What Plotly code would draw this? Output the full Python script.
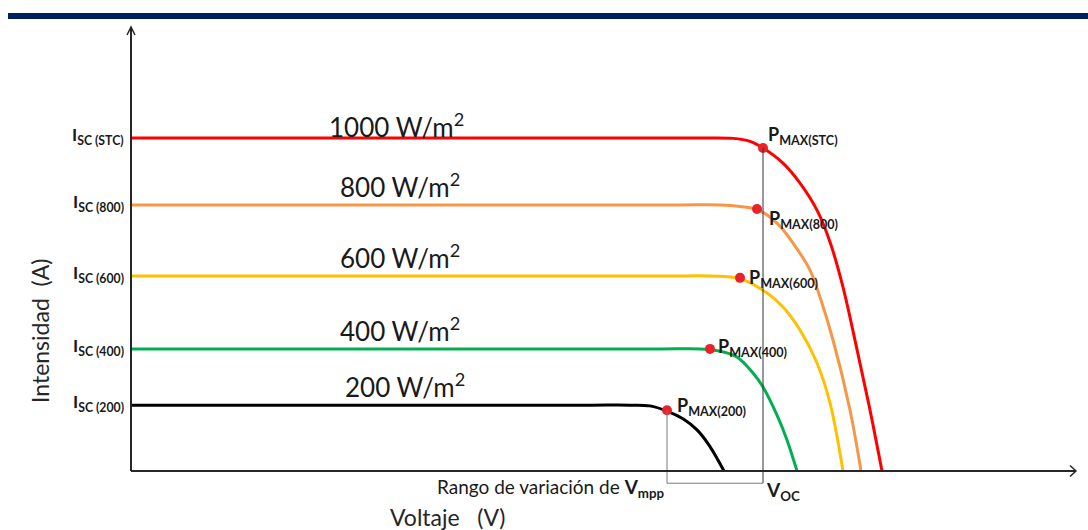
import plotly.graph_objects as go

# ---- I-V curves of a PV module at several irradiance levels (V in volts, I in amps) ----
v_1000 = [0, 10, 20, 26.5, 28.45, 30.1, 30.95, 31.6, 32.6, 33.45, 34.3, 34.95, 35.6, 36.25, 36.9, 37.55]
i_1000 = [9.0, 9.0, 9.0, 9.0, 9.0, 8.99, 8.91, 8.73, 8.32, 7.78, 7.05, 6.19, 4.97, 3.41, 1.78, 0]

v_800 = [0, 10, 20, 27.5, 29.45, 30.45, 31.3, 32.3, 33.1, 33.95, 34.45, 35.1, 35.95, 36.5]
i_800 = [7.19, 7.19, 7.19, 7.19, 7.19, 7.15, 7.07, 6.7, 6.16, 5.43, 4.7, 3.54, 1.65, 0]

v_600 = [0, 10, 20, 27.0, 28.95, 30.45, 31.8, 32.6, 33.45, 34.3, 34.95, 35.6]
i_600 = [5.27, 5.27, 5.27, 5.27, 5.27, 5.2, 4.81, 4.43, 3.81, 2.92, 1.84, 0]

v_400 = [0, 10, 20, 26.5, 28.45, 28.95, 29.6, 30.3, 31.1, 31.6, 32.3, 32.8, 33.3]
i_400 = [3.30, 3.30, 3.30, 3.30, 3.30, 3.28, 3.22, 3.08, 2.65, 2.27, 1.51, 0.84, 0]

v_200 = [0, 10, 18, 23.0, 24.95, 25.95, 26.8, 27.6, 28.3, 28.9, 29.65]
i_200 = [1.78, 1.78, 1.78, 1.78, 1.78, 1.76, 1.62, 1.41, 1.11, 0.70, 0]

curve_names = ["1000 W/m<sup>2</sup>", "800 W/m<sup>2</sup>", "600 W/m<sup>2</sup>",
               "400 W/m<sup>2</sup>", "200 W/m<sup>2</sup>"]
curve_tags = ["STC", "800", "600", "400", "200"]
curve_colors = ["#FF0000", "#F79646", "#FFC000", "#00B050", "#000000"]

# maximum power points
pmax_v = [31.6, 31.3, 30.45, 28.95, 26.8]
pmax_i = [8.73, 7.08, 5.22, 3.30, 1.64]

curves_v = [v_1000, v_800, v_600, v_400, v_200]
curves_i = [i_1000, i_800, i_600, i_400, i_200]

# ---- canvas geometry ----
W, H = 1088, 530
X_RANGE = [-6.55, 47.85]      # 20 px per volt
Y_RANGE = [-1.5946, 12.7297]  # 37 px per amp
PX_V = W / (X_RANGE[1] - X_RANGE[0])
PX_A = H / (Y_RANGE[1] - Y_RANGE[0])

FONT = "Lato"
TXT = "#1a1a1a"

fig = go.Figure()

for v, i, col in zip(curves_v, curves_i, curve_colors):
    fig.add_trace(go.Scatter(x=v, y=i, mode="lines",
                             line=dict(color=col, width=3, shape="spline", smoothing=1.0),
                             hoverinfo="skip"))

fig.add_trace(go.Scatter(x=pmax_v, y=pmax_i, mode="markers",
                         marker=dict(color="#E8232A", size=10), hoverinfo="skip"))

shapes = []
# Vmpp range box below the axis
box_bottom = -0.33
v_lo, v_hi = min(pmax_v), max(pmax_v)
i_lo = pmax_i[pmax_v.index(v_lo)]
i_hi = pmax_i[pmax_v.index(v_hi)]
shapes.append(dict(type="line", xref="x", yref="y", x0=v_lo, x1=v_lo, y0=i_lo, y1=box_bottom,
                   line=dict(color="#7a7a7a", width=1)))
shapes.append(dict(type="line", xref="x", yref="y", x0=v_hi, x1=v_hi, y0=i_hi, y1=box_bottom,
                   line=dict(color="#333333", width=1)))
shapes.append(dict(type="line", xref="x", yref="y", x0=v_lo, x1=v_hi, y0=box_bottom, y1=box_bottom,
                   line=dict(color="#7a7a7a", width=1)))

# axes with open arrow heads
y_top = 12.0
x_end = 47.25
ax_col = "#262626"
shapes.append(dict(type="line", xref="x", yref="y", x0=0, x1=0, y0=0, y1=y_top,
                   line=dict(color=ax_col, width=2)))
shapes.append(dict(type="line", xref="x", yref="y", x0=0, x1=x_end, y0=0, y1=0,
                   line=dict(color=ax_col, width=2)))
dx, dy = 4 / PX_V, 8 / PX_A
shapes.append(dict(type="path", xref="x", yref="y",
                   path=f"M {-dx} {y_top - dy} L 0 {y_top} L {dx} {y_top - dy}",
                   line=dict(color=ax_col, width=1.5)))
dx, dy = 6 / PX_V, 5.5 / PX_A
shapes.append(dict(type="path", xref="x", yref="y",
                   path=f"M {x_end - dx} {dy} L {x_end} 0 L {x_end - dx} {-dy}",
                   line=dict(color=ax_col, width=1.5)))

# header rule
shapes.append(dict(type="rect", xref="paper", yref="paper", x0=8 / W, x1=1,
                   y0=1 - 19 / H, y1=1 - 13 / H, fillcolor="#002060", line=dict(width=0)))

annotations = []
# irradiance labels above each curve
label_shift = [-7, 0, 0, 0, 0]
label_x = [13.25, 13.45, 13.45, 13.45, 13.7]
for name, i, ys, lx in zip(curve_names, curves_i, label_shift, label_x):
    annotations.append(dict(x=lx, y=i[0], xref="x", yref="y", text=name, showarrow=False,
                            xanchor="center", yanchor="bottom", yshift=ys,
                            font=dict(family=FONT, size=26, color=TXT)))

# short-circuit current tick labels
for tag, i in zip(curve_tags, curves_i):
    annotations.append(dict(x=0, y=i[0], xref="x", yref="y",
                            text=f"<b>I<sub>SC ({tag})</sub></b>", showarrow=False,
                            xanchor="right", yanchor="middle", xshift=-5, yshift=2,
                            font=dict(family=FONT, size=17.5, color=TXT)))

# maximum power point labels
pm_off = [(3, 12), (10, -10), (7, -1), (6, 1), (8, 4)]
for tag, v, i, (ox, oy) in zip(curve_tags, pmax_v, pmax_i, pm_off):
    annotations.append(dict(x=v, y=i, xref="x", yref="y",
                            text=f"<b>P<sub>MAX({tag})</sub></b>", showarrow=False,
                            xanchor="left", yanchor="middle", xshift=ox, yshift=oy,
                            font=dict(family=FONT, size=18, color=TXT)))

annotations.append(dict(x=v_lo, y=box_bottom, xref="x", yref="y",
                        text="Rango de variación de <b>V<sub>mpp</sub></b>", showarrow=False,
                        xanchor="right", yanchor="middle", yshift=-5, xshift=0,
                        font=dict(family=FONT, size=19, color=TXT)))
annotations.append(dict(x=v_hi, y=box_bottom, xref="x", yref="y",
                        text="<b>V<sub>OC</sub></b>", showarrow=False,
                        xanchor="left", yanchor="middle", yshift=-8, xshift=1,
                        font=dict(family=FONT, size=19, color=TXT)))

annotations.append(dict(x=388 / W, y=1 - 517 / H, xref="paper", yref="paper",
                        text="Voltaje   (V)", showarrow=False, xanchor="left", yanchor="middle",
                        font=dict(family=FONT, size=23, color="#262626")))
annotations.append(dict(x=40 / W, y=1 - 331 / H, xref="paper", yref="paper",
                        text="Intensidad  (A)", showarrow=False, textangle=-90,
                        xanchor="center", yanchor="middle",
                        font=dict(family=FONT, size=23, color="#262626")))

fig.update_layout(
    width=W, height=H,
    margin=dict(l=0, r=0, t=0, b=0),
    paper_bgcolor="white", plot_bgcolor="white",
    showlegend=False,
    xaxis=dict(range=X_RANGE, visible=False, fixedrange=True),
    yaxis=dict(range=Y_RANGE, visible=False, fixedrange=True),
    shapes=shapes, annotations=annotations,
)

fig.write_html("out.html")
